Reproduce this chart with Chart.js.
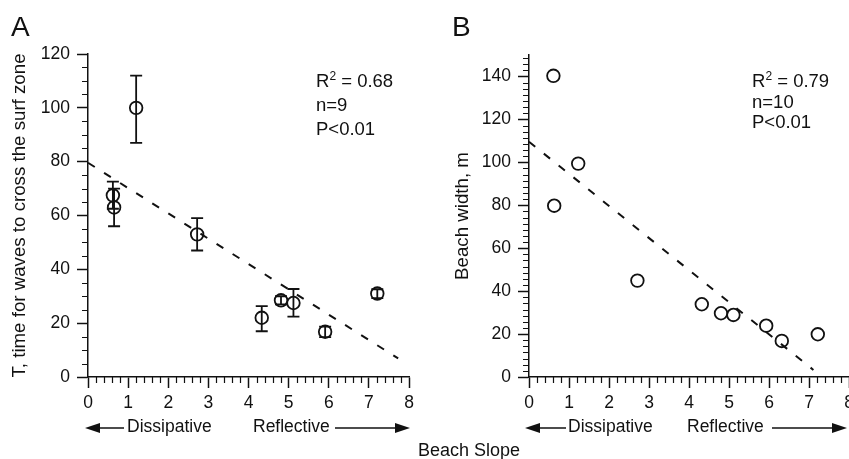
<!DOCTYPE html>
<html lang="en">
<head>
<meta charset="UTF-8">
<title>Beach slope vs surf zone crossing time and beach width</title>
<script src="https://cdn.jsdelivr.net/npm/chart.js"></script>
<style>
    body {
        margin: 0;
        background: #fff;
        overflow: hidden;
        font-family: 'Liberation Sans', Arial, sans-serif;
        color: #111;
    }
    .fig {
        position: relative;
        width: 849px;
        height: 459px;
        overflow: hidden;
    }
    .panel {
        position: absolute;
        top: 0;
    }
    .txt {
        position: absolute;
        white-space: nowrap;
        line-height: 1;
        font-size: 18px;
    }
    .letter { font-size: 28px; }
    .stats { line-height: 24px; font-size: 18.5px; }
    .stats.b { line-height: 20.5px; }
    .stats sup { font-size: 12px; line-height: 0; vertical-align: 7px; }
    .arrowtxt { font-size: 17.5px; }
    svg { position: absolute; left: 0; top: 0; }
</style>
</head>
<body>
<div class="fig">
    <canvas class="panel" id="chartA" width="430" height="459" style="left:0"></canvas>
    <canvas class="panel" id="chartB" width="430" height="459" style="left:430px"></canvas>

    <div class="txt letter" style="left:11px;top:13px">A</div>
    <div class="txt letter" style="left:452px;top:13px">B</div>

    <div class="txt stats" style="left:316px;top:69px">R<sup>2</sup> = 0.68<br>n=9<br>P&lt;0.01</div>
    <div class="txt stats b" style="left:752px;top:71px">R<sup>2</sup> = 0.79<br>n=10<br>P&lt;0.01</div>

    <div class="txt arrowtxt" style="left:127px;top:418px">Dissipative</div>
    <div class="txt arrowtxt" style="left:253px;top:418px">Reflective</div>
    <div class="txt arrowtxt" style="left:568px;top:418px">Dissipative</div>
    <div class="txt arrowtxt" style="left:687px;top:418px">Reflective</div>
    <div class="txt" style="left:418px;top:441px">Beach Slope</div>

    <!-- direction arrows under the x axes -->
    <svg width="849" height="459">
        <g stroke="#111" stroke-width="1.5" fill="#111">
            <line x1="98" y1="428" x2="124" y2="428"/>
            <polygon points="85,428 100,423 100,433" stroke="none"/>
            <line x1="335" y1="428" x2="397" y2="428"/>
            <polygon points="410,428 395,423 395,433" stroke="none"/>
            <line x1="538" y1="428" x2="566" y2="428"/>
            <polygon points="525,428 540,423 540,433" stroke="none"/>
            <line x1="772" y1="428" x2="834" y2="428"/>
            <polygon points="847,428 832,423 832,433" stroke="none"/>
        </g>
    </svg>
</div>

<script>
    // Tick labels
    const xTicks = [0, 1, 2, 3, 4, 5, 6, 7, 8];
    const yTicksA = [0, 20, 40, 60, 80, 100, 120];
    const yTicksB = [0, 20, 40, 60, 80, 100, 120, 140];

    // Panel A: time for waves to cross the surf zone (s) vs beach slope
    const slopeA = [0.62, 0.65, 1.2, 2.72, 4.33, 4.81, 5.12, 5.91, 7.21];
    const timeA = [67.5, 63, 100, 53, 22, 28.5, 27.5, 16.8, 31];
    const timeLowA = [62.5, 56, 87, 47, 17, 27, 22.4, 14.8, 29.3];
    const timeHighA = [72.6, 70, 112, 59, 26.3, 30, 32.7, 18.7, 32.6];
    const fitSlopeA = [0, 7.73];
    const fitTimeA = [79.6, 6.9];

    // Panel B: beach width (m) vs beach slope
    const slopeB = [0.61, 0.63, 1.23, 2.71, 4.32, 4.8, 5.11, 5.93, 6.32, 7.22];
    const widthB = [140.3, 79.8, 99.4, 44.9, 33.9, 29.7, 28.9, 23.9, 16.8, 19.9];
    const fitSlopeB = [0, 7.11];
    const fitWidthB = [109.6, 3.3];

    Chart.defaults.font.family = "'Liberation Sans', Arial, sans-serif";
    Chart.defaults.color = '#111';

    const ink = '#111';

    // small ticks between the labelled ones
    const minorTicks = {
        id: 'minorTicks',
        afterDraw(chart, args, opts) {
            const { ctx, chartArea, scales: { x, y } } = chart;
            ctx.save();
            ctx.strokeStyle = ink;
            ctx.lineWidth = 1.2;
            ctx.beginPath();
            for (let i = 1; i * opts.xStep <= x.max + 1e-9; i++) {
                if (i % opts.xEvery === 0) continue;
                const px = Math.round(x.getPixelForValue(i * opts.xStep)) + 0.5;
                ctx.moveTo(px, chartArea.bottom);
                ctx.lineTo(px, chartArea.bottom + 6);
            }
            for (let i = 1; i * opts.yStep <= y.max + 1e-9; i++) {
                if (i % opts.yEvery === 0) continue;
                const py = Math.round(y.getPixelForValue(i * opts.yStep)) + 0.5;
                ctx.moveTo(chartArea.left, py);
                ctx.lineTo(chartArea.left - 6, py);
            }
            ctx.stroke();
            ctx.restore();
        }
    };

    // vertical error bars with caps
    const errorBars = {
        id: 'errorBars',
        beforeDatasetsDraw(chart, args, opts) {
            if (!opts.low) return;
            const { ctx, scales: { x, y } } = chart;
            ctx.save();
            ctx.strokeStyle = ink;
            ctx.lineWidth = 1.8;
            ctx.beginPath();
            opts.xs.forEach((xv, i) => {
                const px = x.getPixelForValue(xv);
                const lo = y.getPixelForValue(opts.low[i]);
                const hi = y.getPixelForValue(opts.high[i]);
                ctx.moveTo(px, lo); ctx.lineTo(px, hi);
                ctx.moveTo(px - 6, lo); ctx.lineTo(px + 6, lo);
                ctx.moveTo(px - 6, hi); ctx.lineTo(px + 6, hi);
            });
            ctx.stroke();
            ctx.restore();
        }
    };

    function pairs(xs, ys) {
        return xs.map((v, i) => ({ x: v, y: ys[i] }));
    }

    function makeScales(yTicks, yMax, yWidth, title, titlePad) {
        return {
            x: {
                type: 'linear',
                min: 0,
                max: 8,
                afterBuildTicks: s => { s.ticks = xTicks.map(v => ({ value: v })); },
                afterFit: s => { s.height = 82; s.paddingLeft = 0; s.paddingRight = 0; },
                grid: { drawOnChartArea: false, tickLength: 11, tickWidth: 1.5, tickColor: ink },
                border: { color: ink, width: 1.5 },
                ticks: { padding: 5, color: ink, font: { size: 17.5 }, maxRotation: 0 }
            },
            y: {
                type: 'linear',
                min: 0,
                max: yMax,
                afterBuildTicks: s => { s.ticks = yTicks.map(v => ({ value: v })); },
                afterFit: s => { s.width = yWidth; s.paddingTop = 0; s.paddingBottom = 0; },
                grid: { drawOnChartArea: false, tickLength: 11, tickWidth: 1.5, tickColor: ink },
                border: { color: ink, width: 1.5 },
                ticks: { padding: 7, color: ink, font: { size: 17.5 } },
                title: {
                    display: true,
                    text: title,
                    color: ink,
                    font: { size: 18.7 },
                    padding: { top: titlePad, bottom: 0 }
                }
            }
        };
    }

    function makeChart(id, cfg) {
        return new Chart(document.getElementById(id), {
            type: 'scatter',
            data: {
                datasets: [
                    {
                        data: pairs(cfg.xs, cfg.ys),
                        pointStyle: 'circle',
                        pointRadius: 6.3,
                        pointBorderWidth: 1.8,
                        pointBorderColor: ink,
                        pointBackgroundColor: 'rgba(0,0,0,0)',
                        showLine: false
                    },
                    {
                        data: pairs(cfg.fitX, cfg.fitY),
                        showLine: true,
                        borderColor: ink,
                        borderWidth: 2,
                        borderDash: [8, 11],
                        pointRadius: 0,
                        clip: false
                    }
                ]
            },
            options: {
                responsive: false,
                animation: false,
                events: [],
                layout: { padding: cfg.padding },
                plugins: {
                    legend: { display: false },
                    tooltip: { enabled: false },
                    minorTicks: cfg.minor,
                    errorBars: cfg.err || {}
                },
                scales: makeScales(cfg.yTicks, cfg.yMax, cfg.yWidth, cfg.title, cfg.titlePad)
            },
            plugins: [minorTicks, errorBars]
        });
    }

    makeChart('chartA', {
        xs: slopeA, ys: timeA,
        fitX: fitSlopeA, fitY: fitTimeA,
        err: { xs: slopeA, low: timeLowA, high: timeHighA },
        yTicks: yTicksA, yMax: 120, yWidth: 88,
        title: 'T, time for waves to cross the surf zone', titlePad: 9,
        padding: { top: 54, right: 21, left: 0, bottom: 0 },
        minor: { xStep: 0.2, xEvery: 5, yStep: 5, yEvery: 4 }
    });

    makeChart('chartB', {
        xs: slopeB, ys: widthB,
        fitX: fitSlopeB, fitY: fitWidthB,
        yTicks: yTicksB, yMax: 150, yWidth: 99,
        title: 'Beach width, m', titlePad: 22,
        padding: { top: 55, right: 11, left: 0, bottom: 0 },
        minor: { xStep: 0.2, xEvery: 5, yStep: 20 / 7, yEvery: 7 }
    });
</script>
</body>
</html>
